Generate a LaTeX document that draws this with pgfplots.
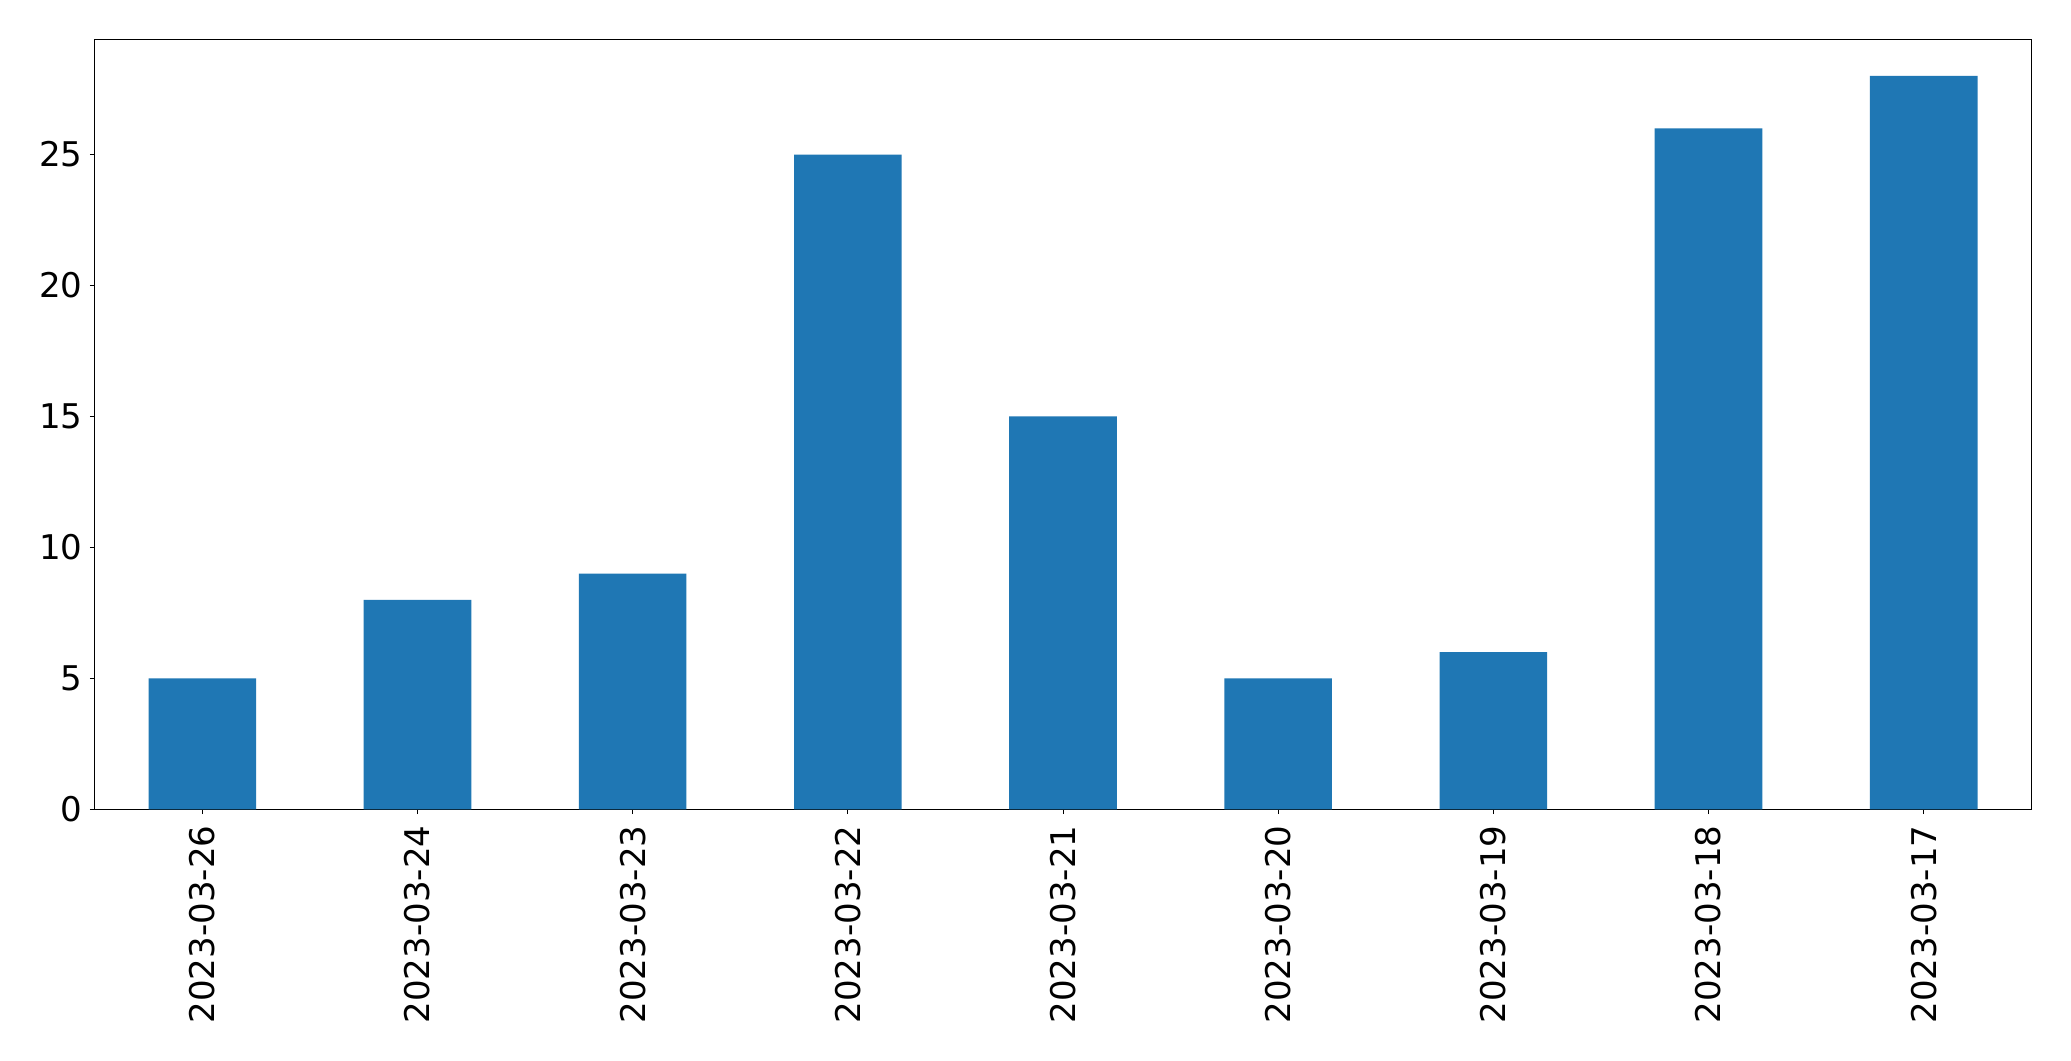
\documentclass[border=0pt]{standalone}
\usepackage{fontspec}
\setmainfont{DejaVu Sans}
\usepackage{pgfplots}
\pgfplotsset{compat=1.18}
\definecolor{mplblue}{HTML}{1F77B4}
\begin{document}
\begin{tikzpicture}
\begin{axis}[
  scale only axis,
  width=1394.4bp, height=554.4bp,
  xmin=-0.5, xmax=8.5,
  ymin=0, ymax=29.4,
  xtick={0,...,8},
  xticklabels={2023-03-26,2023-03-24,2023-03-23,2023-03-22,2023-03-21,2023-03-20,2023-03-19,2023-03-18,2023-03-17},
  ytick={0,5,10,15,20,25},
  tick align=outside,
  tick pos=left,
  major tick length=3.5bp,
  every tick/.style={black, line width=0.58bp},
  axis line style={line width=0.58bp},
  /pgf/number format/assume math mode=true,
  tick label style={font=\fontsize{24.5bp}{29bp}\selectfont},
  x tick label style={yshift=-8bp, rotate=90, anchor=east, inner sep=0pt},
  y tick label style={inner sep=0pt, xshift=-5bp},
  axis background/.style={fill=white},
]
\addplot[ybar, bar width=0.5, fill=mplblue, draw=none, bar shift=0pt] coordinates {
  (0,5) (1,8) (2,9) (3,25) (4,15) (5,5) (6,6) (7,26) (8,28)
};
\end{axis}
\pgfresetboundingbox
\useasboundingbox ([shift={(-68.2bp,-181.2bp)}]current axis.south west) rectangle ([shift={(28.6bp,28.3bp)}]current axis.north east);
\end{tikzpicture}
\end{document}
